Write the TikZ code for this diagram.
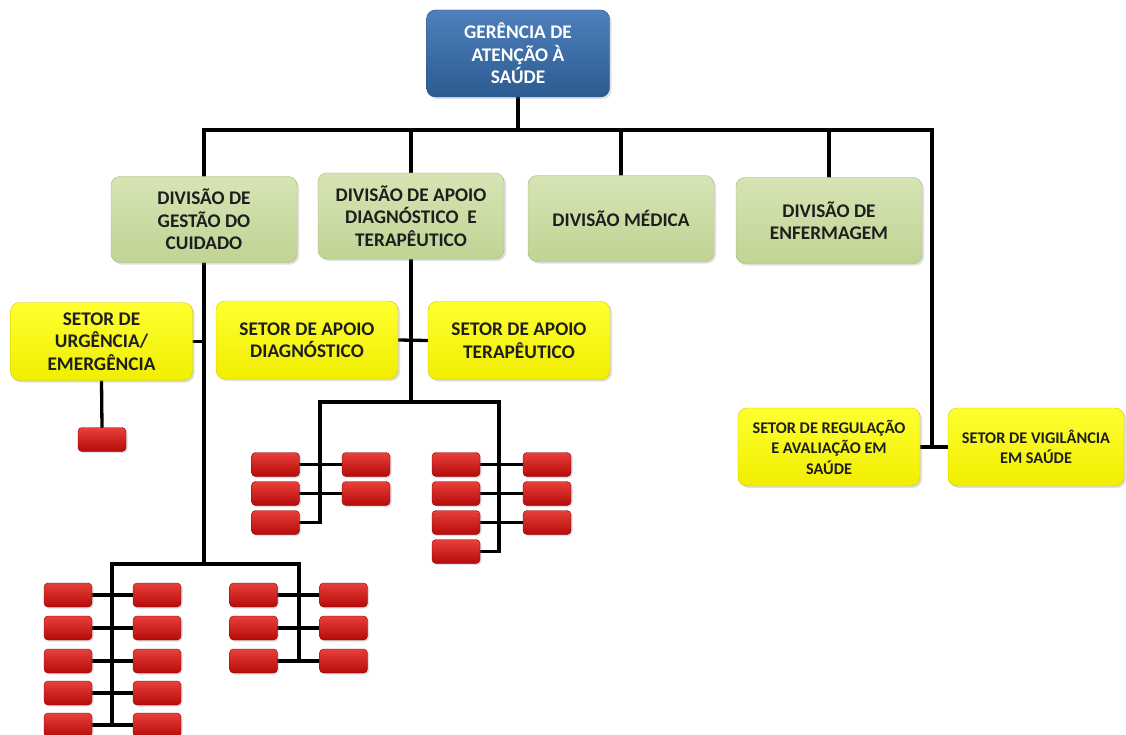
\documentclass[tikz,border=0pt]{standalone}
\usepackage{fontspec}
\setmainfont{Carlito}
\usetikzlibrary{shadows}
\pgfdeclarelayer{bg}
\pgfsetlayers{bg,main}
\definecolor{blueT}{HTML}{4F80BC}
\definecolor{blueB}{HTML}{2C5B91}
\definecolor{blueD}{HTML}{2A558A}
\definecolor{greenT}{HTML}{D6E4B4}
\definecolor{greenB}{HTML}{C0D494}
\definecolor{greenD}{HTML}{A6BB7C}
\definecolor{yelT}{HTML}{FFFF30}
\definecolor{yelB}{HTML}{F0EE00}
\definecolor{yelD}{HTML}{CFC800}
\definecolor{redT}{HTML}{E8403A}
\definecolor{redB}{HTML}{B50A0A}
\definecolor{redD}{HTML}{8E0000}
\definecolor{txt}{HTML}{1E1E1E}
\begin{document}
\begin{tikzpicture}[x=1pt,y=-1pt,
  conn/.style={line width=3.3pt, black, line cap=rect},
  base/.style={rounded corners=9pt, align=center, inner sep=0pt,
    font=\bfseries\fontsize{19.3}{22.5}\selectfont, text=txt,
    drop shadow={shadow xshift=2pt,shadow yshift=-2pt,opacity=.25}},
  topbox/.style={base, minimum width=183pt, minimum height=87pt,
    top color=blueT, bottom color=blueB, draw=blueD, text=white},
  greenbox/.style={base, minimum width=186pt, minimum height=86pt,
    top color=greenT, bottom color=greenB, draw=greenD},
  yelbox/.style={base, minimum width=182pt, minimum height=78pt,
    top color=yelT, bottom color=yelB, draw=yelD},
  smalltext/.style={font=\bfseries\fontsize{16.3}{20.5}\selectfont},
  redbox/.style={rounded corners=4pt, minimum width=48pt, minimum height=24pt,
    inner sep=0pt, top color=redT, bottom color=redB, draw=redD,
    drop shadow={shadow xshift=1.5pt,shadow yshift=-1.5pt,opacity=.25}}
]
\begin{pgfonlayer}{bg}
\fill[white] (0,0) rectangle (1126,735);
\end{pgfonlayer}
\useasboundingbox (0,0) rectangle (1126,735);

% top
\node[topbox] (top) at (518,53.5) {GERÊNCIA DE\\ATENÇÃO À\\SAÚDE};

% divisions
\node[greenbox] (g1) at (204,219.5) {DIVISÃO DE\\GESTÃO DO\\CUIDADO};
\node[greenbox] (g2) at (411,216) {DIVISÃO DE APOIO\\DIAGNÓSTICO \ E\\TERAPÊUTICO};
\node[greenbox] (g3) at (621,218.5) {DIVISÃO MÉDICA};
\node[greenbox] (g4) at (829,220.5) {DIVISÃO DE\\ENFERMAGEM};

% sectors
\node[yelbox] (y1) at (101.5,341.5) {SETOR DE\\URGÊNCIA/\\EMERGÊNCIA};
\node[yelbox] (y2) at (307,340) {SETOR DE APOIO\\DIAGNÓSTICO};
\node[yelbox] (y3) at (519,340.5) {SETOR DE APOIO\\TERAPÊUTICO};
\node[yelbox, smalltext] (y4) at (829,447) {SETOR DE REGULAÇÃO\\E AVALIAÇÃO EM\\SAÚDE};
\node[yelbox, smalltext, minimum width=176pt] (y5) at (1036,447) {SETOR DE VIGILÂNCIA\\EM SAÚDE};

% bus coordinates
\coordinate (bus) at (518,130);
\coordinate (rc) at (932,130);
\coordinate (MLtop) at (320,402);
\coordinate (MRtop) at (499,402);
\coordinate (LLtop) at (112,564);
\coordinate (LRtop) at (299,564);

% red boxes
\node[redbox] (r0) at (102,439.5) {};
\foreach \i/\y in {1/464.5,2/493.5,3/522.5}{\node[redbox] (MLa\i) at (275.5,\y) {};}
\foreach \i/\y in {1/464.5,2/493.5}{\node[redbox] (MLb\i) at (366,\y) {};}
\foreach \i/\y in {1/464.5,2/493.5,3/522.5,4/551.5}{\node[redbox] (MRa\i) at (456,\y) {};}
\foreach \i/\y in {1/464.5,2/493.5,3/522.5}{\node[redbox] (MRb\i) at (547,\y) {};}
\foreach \i/\y in {1/595,2/628,3/661,4/693,5/725}{
  \node[redbox] (LLa\i) at (68,\y) {};
  \node[redbox] (LLb\i) at (157,\y) {};}
\foreach \i/\y in {1/595,2/628,3/661}{
  \node[redbox] (LRa\i) at (253.5,\y) {};
  \node[redbox] (LRb\i) at (343.5,\y) {};}

\begin{pgfonlayer}{bg}
% main level
\draw[conn] (top.south) -- (bus);
\draw[conn] (g1.north |- bus) -- (rc);
\draw[conn] (g1.north) -- (g1.north |- bus);
\draw[conn] (g2.north) -- (g2.north |- bus);
\draw[conn] (g3.north) -- (g3.north |- bus);
\draw[conn] (g4.north) -- (g4.north |- bus);
\draw[conn] (rc) -- (rc |- y4.east);
\draw[conn] (y4.east) -- (y5.west);
% gestao do cuidado
\draw[conn] (g1.south) -- (g1.south |- LLtop);
\draw[conn] (y1.east) -- (y1.east -| g1.south);
\draw[conn] (y1.south) -- (r0.north);
\draw[conn] (LLtop) -- (LRtop);
\draw[conn] (LLtop) -- (LLtop |- LLa5.east);
\draw[conn] (LRtop) -- (LRtop |- LRa3.east);
\foreach \i in {1,...,5}{\draw[conn] (LLa\i.east) -- (LLb\i.west);}
\foreach \i in {1,2,3}{\draw[conn] (LRa\i.east) -- (LRb\i.west);}
% apoio
\draw[conn] (g2.south) -- (g2.south |- MLtop);
\draw[conn] (y2.east) -- (y3.west);
\draw[conn] (MLtop) -- (MRtop);
\draw[conn] (MLtop) -- (MLtop |- MLa3.east);
\draw[conn] (MRtop) -- (MRtop |- MRa4.east);
\foreach \i in {1,2}{\draw[conn] (MLa\i.east) -- (MLb\i.west);}
\draw[conn] (MLa3.east) -- (MLa3.east -| MLtop);
\foreach \i in {1,2,3}{\draw[conn] (MRa\i.east) -- (MRb\i.west);}
\draw[conn] (MRa4.east) -- (MRa4.east -| MRtop);
\end{pgfonlayer}
\end{tikzpicture}
\end{document}
